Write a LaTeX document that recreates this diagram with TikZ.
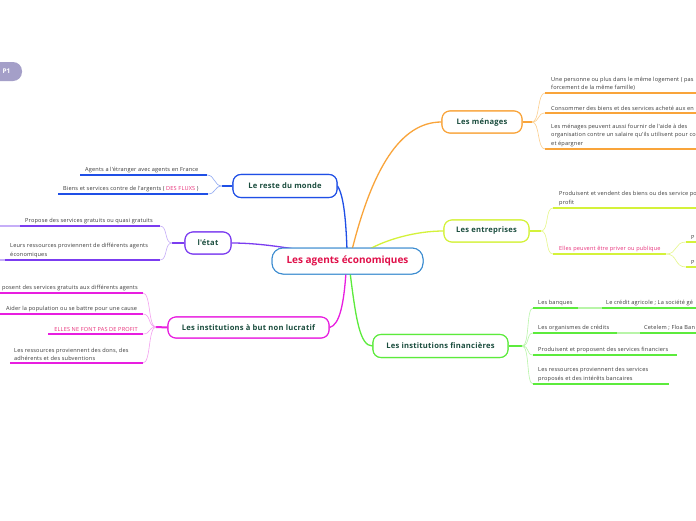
\documentclass[tikz,border=0pt]{standalone}
\usepackage{fontspec}
\setmainfont{Open Sans}
\newfontfamily\subfont[LetterSpace=3]{Open Sans}
\newfontfamily\topfont[LetterSpace=3]{Open Sans}
\definecolor{cOr}{HTML}{F9A43A}
\definecolor{cOrL}{HTML}{FCCF8E}
\definecolor{cYe}{HTML}{D4F23A}
\definecolor{cYeL}{HTML}{E6F78A}
\definecolor{cGr}{HTML}{5CEB3C}
\definecolor{cGrL}{HTML}{B8F5A8}
\definecolor{cBl}{HTML}{1F4FE6}
\definecolor{cBlL}{HTML}{8FA8F2}
\definecolor{cPu}{HTML}{7B3CF0}
\definecolor{cPuL}{HTML}{C6AEF8}
\definecolor{cMa}{HTML}{E81EE0}
\definecolor{cMaL}{HTML}{F4A0F0}
\definecolor{cCe}{HTML}{3C8CD0}
\definecolor{cRed}{HTML}{E0104A}
\definecolor{tDk}{HTML}{1B4D3E}
\definecolor{tPk}{HTML}{E8307A}
\definecolor{tTx}{HTML}{3A3A3A}
\definecolor{cP1}{HTML}{A49FC8}
\tikzset{
  topic/.style={draw, rounded corners=8pt, line width=1.1pt, fill=white,
    font=\topfont\bfseries\fontsize{7.6}{8}\selectfont, text=tDk, inner sep=0pt},
  centre/.style={topic, draw=cCe, rounded corners=11pt, line width=1pt, minimum width=151pt,
    minimum height=26pt, font=\bfseries\fontsize{10}{11}\selectfont, text=cRed},
  subtxt/.style={anchor=south west, font=\subfont\fontsize{5.6}{8.4}\selectfont, text=tTx,
    inner xsep=0pt, inner ysep=2.2pt, align=left},
  subtxtr/.style={subtxt, anchor=south east},
  ul/.style={line width=1.8pt},
  br/.style={line width=0.6pt},
  mainbr/.style={line width=1.3pt},
  stem/.style={line width=2pt}
}
\begin{document}
\begin{tikzpicture}[x=1pt,y=-1pt]
\useasboundingbox (0,0) rectangle (696,520);
\fill[white] (0,0) rectangle (696,520);

% P1 tab
\node[fill=cP1, rounded corners=9pt, minimum width=40pt, minimum height=19pt,
  inner sep=0pt] (p1) at (2,71.5) {};
\node[text=white, inner sep=0pt, font=\bfseries\fontsize{6.5}{7}\selectfont] (p1t) at (6.5,71.5) {P1};

% topic nodes (placed first for anchors; redrawn on top later)
\node[centre] (ce) at (347.5,261) {Les agents économiques};
\node[topic, draw=cOr, minimum width=80pt, minimum height=22pt] (men) at (482,122) {Les ménages};
\node[topic, draw=cYe, minimum width=85pt, minimum height=22pt] (ent) at (486.5,231) {Les entreprises};
\node[topic, draw=cGr, minimum width=135pt, minimum height=23pt] (fin) at (440.5,346) {Les institutions financières};
\node[topic, draw=cBl, minimum width=104pt, minimum height=23pt] (rm) at (285,186) {Le reste du monde};
\node[topic, draw=cPu, minimum width=46pt, minimum height=22pt] (et) at (208,243) {l'état};
\node[topic, draw=cMa, minimum width=161pt, minimum height=21pt] (nl) at (248.5,327.5) {Les institutions à but non lucratif};

% main branches
\draw[cOr, mainbr] (352,250) .. controls (372,170) and (400,122) .. (men.west);
\draw[cYe, mainbr] (368,250) .. controls (385,240) and (415,231) .. (ent.west);
\draw[cGr, mainbr] (350,272) .. controls (356,320) and (360,346) .. (fin.west);
\draw[cBl, mainbr] (rm.east) .. controls (344,196) and (346,222) .. (347,250);
\draw[cMa, mainbr] (346,272) .. controls (344,302) and (340,325) .. (nl.east);
\draw[cPu, mainbr] (et.east) .. controls (265,243) and (300,250) .. (330,255);

% redraw topics on top
\node[centre] at (ce) {Les agents économiques};
\node[topic, draw=cOr, minimum width=80pt, minimum height=22pt] at (men) {Les ménages};
\node[topic, draw=cYe, minimum width=85pt, minimum height=22pt] at (ent) {Les entreprises};
\node[topic, draw=cGr, minimum width=135pt, minimum height=23pt] at (fin) {Les institutions financières};
\node[topic, draw=cBl, minimum width=104pt, minimum height=23pt] at (rm) {Le reste du monde};
\node[topic, draw=cPu, minimum width=46pt, minimum height=22pt] at (et) {l'état};
\node[topic, draw=cMa, minimum width=161pt, minimum height=21pt] at (nl) {Les institutions à but non lucratif};

% ---------- Les ménages ----------
\coordinate (mj) at (532,122);
\coordinate (m1s) at (545,93);  \coordinate (m1e) at (696,93);
\coordinate (m2s) at (545,113); \coordinate (m2e) at (696,113);
\coordinate (m3s) at (545,149); \coordinate (m3e) at (696,149);
\draw[cOr, stem] (men.east) -- (mj);
\draw[cOrL, br] (mj) .. controls (540,122) and (537,93) .. (m1s);
\draw[cOrL, br] (mj) .. controls (540,122) and (537,113) .. (m2s);
\draw[cOrL, br] (mj) .. controls (540,122) and (537,149) .. (m3s);
\draw[cOr, ul] (m1s) -- (m1e);
\draw[cOr, ul] (m2s) -- (m2e);
\draw[cOr, ul] (m3s) -- (m3e);
\node[subtxt] (m1) at (551,93) {Une personne ou plus dans le même logement ( pas\\forcement de la même famille)};
\node[subtxt] (m2) at (551,113) {Consommer des biens et des services acheté aux en};
\node[subtxt] (m3) at (551,149) {Les ménages peuvent aussi fournir de l'aide à des\\organisation contre un salaire qu'ils utilisent pour co\\et épargner};

% ---------- Les entreprises ----------
\coordinate (ej) at (541,231);
\coordinate (e1s) at (553,208); \coordinate (e1e) at (696,208);
\coordinate (e2s) at (553,254); \coordinate (e2e) at (666,254);
\coordinate (q1s) at (686,242); \coordinate (q1e) at (696,242);
\coordinate (q2s) at (686,267); \coordinate (q2e) at (696,267);
\draw[cYe, stem] (ent.east) -- (ej);
\draw[cYeL, br] (ej) .. controls (549,231) and (545,208) .. (e1s);
\draw[cYeL, br] (ej) .. controls (549,231) and (545,254) .. (e2s);
\draw[cYe, ul] (e1s) -- (e1e);
\draw[cYe, ul] (e2s) -- (e2e);
\draw[cYeL, br] (e2e) .. controls (678,254) and (674,242) .. (q1s);
\draw[cYeL, br] (e2e) .. controls (678,254) and (674,267) .. (q2s);
\draw[cYe, ul] (q1s) -- (q1e);
\draw[cYe, ul] (q2s) -- (q2e);
\node[subtxt] (e1) at (559,208) {Produisent et vendent des biens ou des service po\\profit};
\node[subtxt, text=tPk] (e2) at (559,254) {Elles peuvent être priver ou publique};
\node[subtxt] (q1) at (691,242) {P};
\node[subtxt] (q2) at (691,267) {P};

% ---------- Les institutions financières ----------
\coordinate (fj) at (522,346);
\coordinate (f1s) at (533,308); \coordinate (f1e) at (578,308);
\coordinate (g1s) at (602,308); \coordinate (g1e) at (696,308);
\coordinate (f2s) at (533,333); \coordinate (f2e) at (617,333);
\coordinate (g2s) at (640,333); \coordinate (g2e) at (696,333);
\coordinate (f3s) at (533,355); \coordinate (f3e) at (677,355);
\coordinate (f4s) at (533,384); \coordinate (f4e) at (669,384);
\draw[cGr, stem] (fin.east) -- (fj);
\draw[cGrL, br] (fj) .. controls (530,346) and (526,308) .. (f1s);
\draw[cGrL, br] (fj) .. controls (530,346) and (526,333) .. (f2s);
\draw[cGrL, br] (fj) .. controls (530,346) and (526,355) .. (f3s);
\draw[cGrL, br] (fj) .. controls (530,346) and (526,384) .. (f4s);
\draw[cGr, ul] (f1s) -- (f1e);
\draw[cGrL, ul] (f1e) -- (g1s);
\draw[cGr, ul] (g1s) -- (g1e);
\draw[cGr, ul] (f2s) -- (f2e);
\draw[cGrL, ul] (f2e) -- (g2s);
\draw[cGr, ul] (g2s) -- (g2e);
\draw[cGr, ul] (f3s) -- (f3e);
\draw[cGr, ul] (f4s) -- (f4e);
\node[subtxt] (f1) at (538,308) {Les banques};
\node[subtxt] (g1) at (606,308) {Le crédit agricole ; La société gé};
\node[subtxt] (f2) at (538,333) {Les organismes de crédits};
\node[subtxt] (g2) at (644,333) {Cetelem ; Floa Ban};
\node[subtxt] (f3) at (538,355) {Produisent et proposent des services financiers};
\node[subtxt] (f4) at (538,384) {Les ressources proviennent des services\\proposés et des intérêts bancaires};

% ---------- Le reste du monde ----------
\coordinate (rj) at (222,186);
\coordinate (r1s) at (80,175); \coordinate (r1e) at (207,175);
\coordinate (r2s) at (58,194); \coordinate (r2e) at (208,194);
\draw[cBl, stem] (rm.west) -- (rj);
\draw[cBlL, br] (rj) .. controls (214,186) and (215,175) .. (r1e);
\draw[cBlL, br] (rj) .. controls (214,186) and (216,194) .. (r2e);
\draw[cBl, ul] (r1s) -- (r1e);
\draw[cBl, ul] (r2s) -- (r2e);
\node[subtxt] (r1) at (85,175) {Agents a l'étranger avec agents en France};
\node[subtxt] (r2) at (63,194) {Biens et services contre de l'argents ( {\color{tPk}DES FLUXS} )};

% ---------- l'état ----------
\coordinate (tj) at (172,243);
\coordinate (t0) at (0,226); \coordinate (t1s) at (20,226); \coordinate (t1e) at (160,226);
\coordinate (u0) at (0,260); \coordinate (t2s) at (5,260); \coordinate (t2e) at (160,260);
\draw[cPu, stem] (et.west) -- (tj);
\draw[cPuL, br] (tj) .. controls (164,243) and (168,226) .. (t1e);
\draw[cPuL, br] (tj) .. controls (164,243) and (168,260) .. (t2e);
\draw[cPuL, ul] (t0) -- (t1s);
\draw[cPuL, ul] (u0) -- (t2s);
\draw[cPu, ul] (t1s) -- (t1e);
\draw[cPu, ul] (t2s) -- (t2e);
\node[subtxt] (t1) at (25,226) {Propose des services gratuits ou quasi gratuits};
\node[subtxt] (t2) at (10,260) {Leurs ressources proviennent de différents agents\\économiques};

% ---------- Les institutions à but non lucratif ----------
\coordinate (nj) at (156,327);
\coordinate (n1s) at (0,293);  \coordinate (n1e) at (143,293);
\coordinate (n2s) at (0,314);  \coordinate (n2e) at (143,314);
\coordinate (n3s) at (48,334); \coordinate (n3e) at (143,334);
\coordinate (n4s) at (10,363); \coordinate (n4e) at (143,363);
\draw[cMa, stem] (nl.west) -- (nj);
\draw[cMaL, br] (nj) .. controls (148,327) and (151,293) .. (n1e);
\draw[cMaL, br] (nj) .. controls (148,327) and (151,314) .. (n2e);
\draw[cMaL, br] (nj) .. controls (148,327) and (151,334) .. (n3e);
\draw[cMaL, br] (nj) .. controls (148,327) and (151,363) .. (n4e);
\draw[cMa, ul] (n1s) -- (n1e);
\draw[cMa, ul] (n2s) -- (n2e);
\draw[cMa, ul] (n3s) -- (n3e);
\draw[cMa, ul] (n4s) -- (n4e);
\node[subtxtr] (n1) at (138,293) {posent des services gratuits aux différents agents};
\node[subtxt] (n2) at (6,314) {Aider la population ou se battre pour une cause};
\node[subtxtr, text=tPk] (n3) at (138,334) {ELLES NE FONT PAS DE PROFIT};
\node[subtxt] (n4) at (14,363) {Les ressources proviennent des dons, des\\adhérents et des subventions};
\end{tikzpicture}
\end{document}
